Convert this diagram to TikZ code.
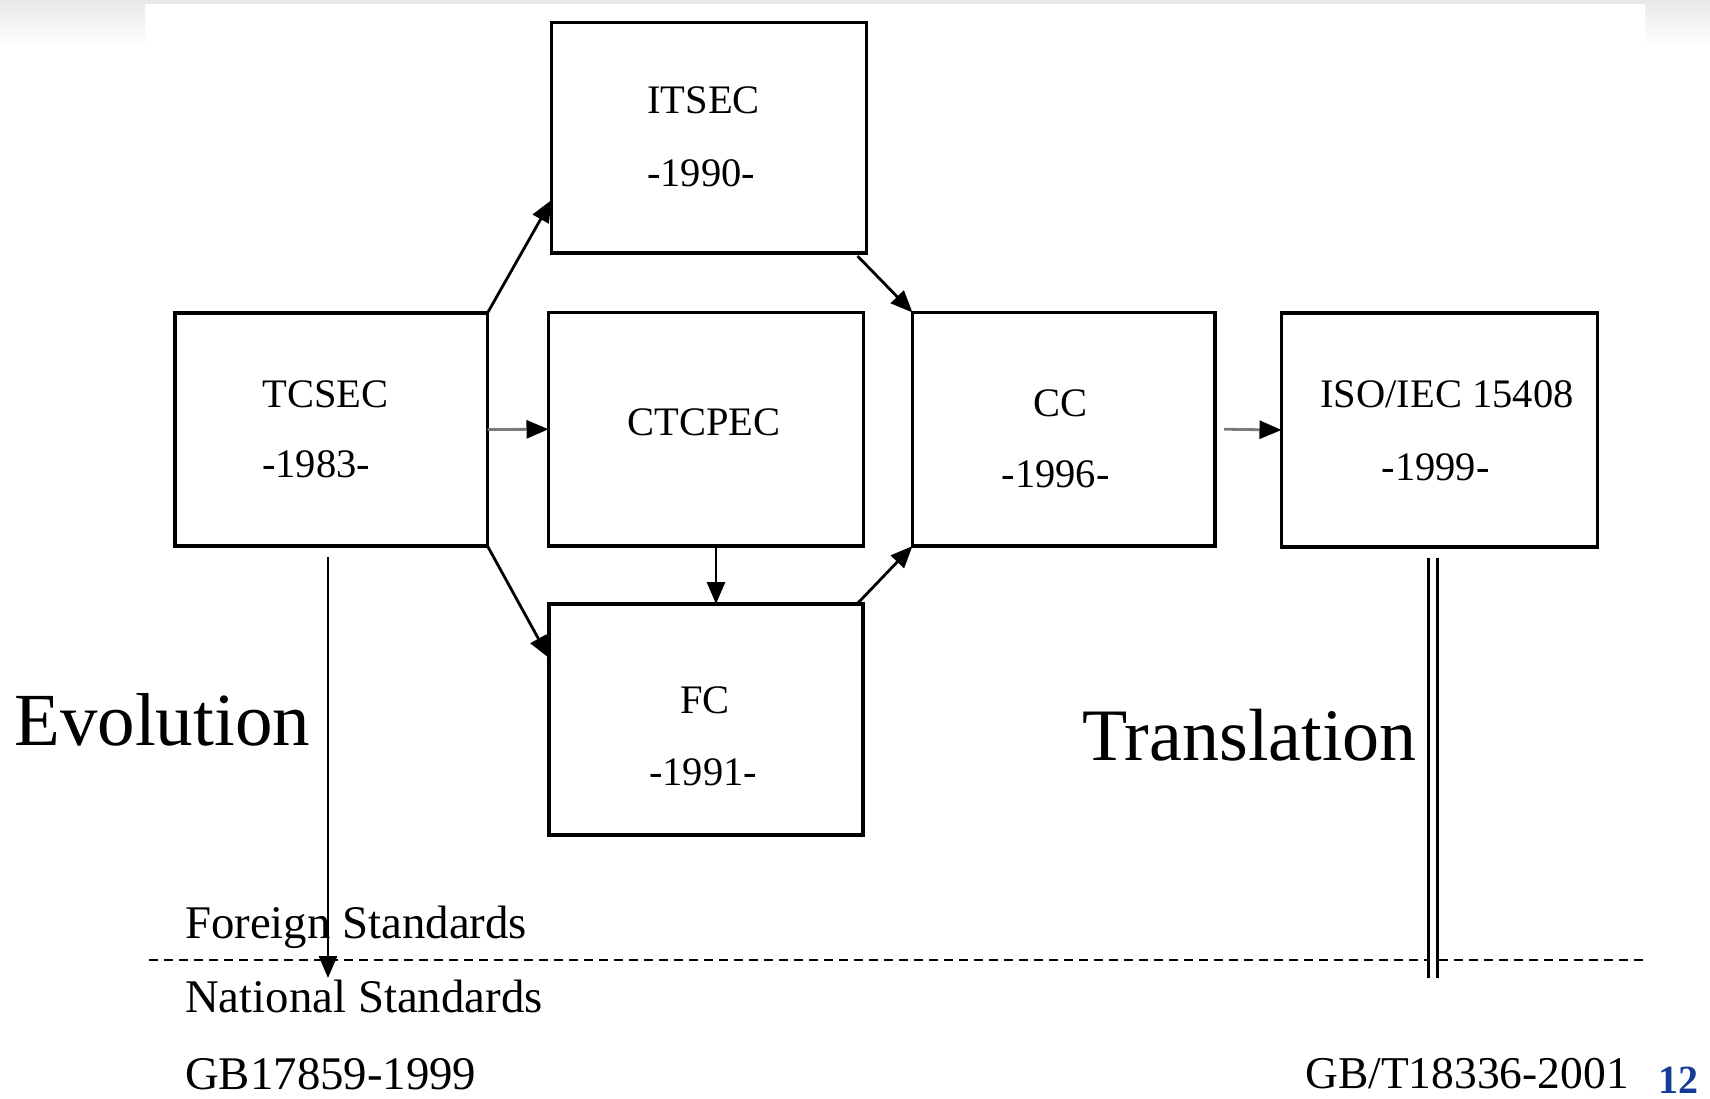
\documentclass[tikz,border=0pt]{standalone}
\usepackage{fontspec}
\setmainfont{Liberation Serif}
\usetikzlibrary{arrows.meta}
\definecolor{pagegray}{HTML}{E8E8E8}
\definecolor{shaftgray}{HTML}{7A7A7A}
\definecolor{numblue}{RGB}{20,60,150}
\tikzset{
  box/.style={draw=black, line width=3.2pt, rectangle, inner sep=0pt, outer sep=0pt, fill=white},
  arr/.style={draw=black, line width=2.8pt, -{Triangle[length=22pt,width=18pt]}},
  grayarr/.style={draw=shaftgray, line width=2.8pt, -{Triangle[length=22pt,width=18pt,color=black,fill=black]}},
  btxt/.style={inner sep=0pt, anchor=base, font=\fontsize{40.5}{48}\selectfont},
  ltxt/.style={inner sep=0pt, anchor=base west, font=\fontsize{46.8}{54}\selectfont},
  bigtxt/.style={inner sep=0pt, anchor=base west, font=\fontsize{74}{88}\selectfont},
  dashline/.style={draw=black, line width=1.8pt, dash pattern=on 9pt off 6pt},
  dbl/.style={draw=black, line width=3pt, double=white, double distance=6pt}
}
\begin{document}
\begin{tikzpicture}[x=1pt,y=-1pt]
\useasboundingbox (0,0) rectangle (1710,1099);
% background
\fill[white] (0,0) rectangle (1710,1099);
\fill[pagegray] (0,0) rectangle (1710,4);
\shade[top color=pagegray, bottom color=white] (0,0) rectangle (145,45);
\shade[top color=pagegray, bottom color=white] (1645,0) rectangle (1710,45);

% boxes
\node[box, minimum width=312.5pt, minimum height=233pt] (tcsec) at (331.25,429.5) {};
\node[box, minimum width=315pt, minimum height=230.5pt] (itsec) at (709,137.75) {};
\node[box, minimum width=315pt, minimum height=233.5pt] (ctcpec) at (706,429.25) {};
\node[box, minimum width=314pt, minimum height=231pt] (fc) at (706,719.5) {};
\node[box, minimum width=302.5pt, minimum height=233.5pt] (cc) at (1063.75,429.25) {};
\node[box, minimum width=316pt, minimum height=234pt] (iso) at (1439.5,430) {};

% box texts
\node[btxt] (tcsecA) at (325.5,407) {TCSEC};
\node[btxt] (tcsecB) at (316,477.5) {-1983-};
\node[btxt] (itsecA) at (703.5,114) {ITSEC};
\node[btxt] (itsecB) at (701,186.5) {-1990-};
\node[btxt] (ctcpecA) at (704,435) {CTCPEC};
\node[btxt] (fcA) at (705,713) {FC};
\node[btxt] (fcB) at (703,785) {-1991-};
\node[btxt] (ccA) at (1060,416.5) {CC};
\node[btxt] (ccB) at (1055.5,487.5) {-1996-};
\node[btxt] (isoA) at (1447,407.5) {ISO/IEC 15408};
\node[btxt] (isoB) at (1435.5,480) {-1999-};

% connectors
\draw[arr] (tcsec.north east) -- ([yshift=53pt]itsec.south west);
\draw[grayarr] (tcsec.east) -- (ctcpec.west);
\draw[arr] (tcsec.south east) -- ([yshift=-54pt]fc.north west);
\draw[arr] ([xshift=-9pt,yshift=-3pt]itsec.south east) -- (cc.north west);
\draw[arr] ([xshift=10pt]ctcpec.south) -- ([xshift=10pt]fc.north);
\draw[arr] ([xshift=-6pt]fc.north east) -- (cc.south west);
\draw[grayarr] ([xshift=9pt]cc.east) -- (iso.west);

% separator
\coordinate (dashL) at (149,960);
\coordinate (dashR) at (1644,960);
\draw[dashline] (dashL) -- (dashR);

% evolution & translation
\coordinate (evoEnd) at (328,978);
\draw[arr] ([xshift=-3.25pt,yshift=-11pt]tcsec.south) -- (evoEnd);
\coordinate (trEnd) at (1433,978);
\draw[dbl] ([xshift=-6.5pt,yshift=-11pt]iso.south) -- (trEnd);

\node[bigtxt, font=\fontsize{75}{88}\selectfont] (evo) at (14,745) {Evolution};
\node[bigtxt] (trans) at (1082,760) {Translation};

% bottom labels
\node[ltxt] (foreign) at (185,938) {Foreign Standards};
\node[ltxt] (national) at (185,1012) {National Standards};
\node[ltxt] (gb1) at (185,1089) {GB17859-1999};
\node[ltxt, font=\fontsize{45.5}{54}\selectfont] (gb2) at (1305,1088) {GB/T18336-2001};
\node[inner sep=0pt, anchor=base west, text=numblue, font=\fontsize{40}{46}\selectfont\bfseries] (pnum) at (1658,1093) {12};
\end{tikzpicture}
\end{document}
